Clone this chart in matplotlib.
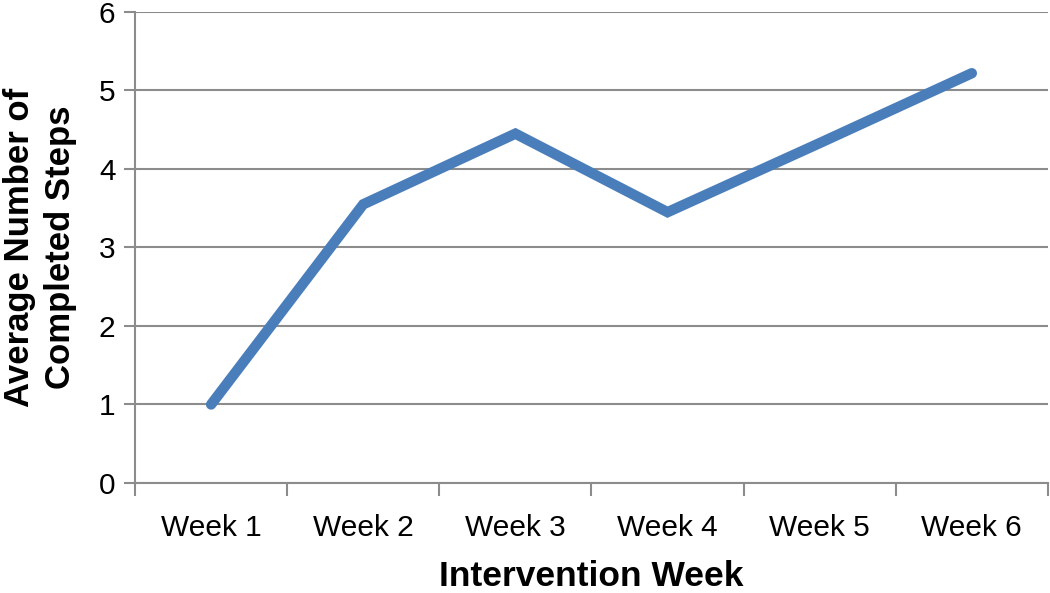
import matplotlib.pyplot as plt
import numpy as np

plt.rcParams['font.family'] = ['Liberation Sans', 'DejaVu Sans']

semanas = ['Week 1', 'Week 2', 'Week 3', 'Week 4', 'Week 5', 'Week 6']
pasos = [1.0, 3.55, 4.45, 3.45, 4.33, 5.22]

gris = '#8c8c8c'

fig = plt.figure(figsize=(10.5, 5.93), dpi=100)
ax = fig.add_axes([0.1286, 0.1855, 0.8694, 0.7943])

x = np.arange(len(semanas))
ax.plot(x, pasos, color='#4a7ebb', linewidth=7.5, solid_capstyle='round',
        solid_joinstyle='miter')

ax.set_xlim(-0.5, len(semanas) - 0.5)
ax.set_ylim(0, 6)
ax.set_yticks(range(0, 7))
ax.yaxis.grid(True, color=gris, linewidth=1.5)
ax.set_axisbelow(True)

ax.set_xticks(x)
ax.set_xticklabels(semanas, fontsize=21.5)
ax.set_xticks(np.arange(-0.5, len(semanas)), minor=True)
ax.tick_params(axis='x', which='major', length=0, pad=22)
ax.tick_params(axis='x', which='minor', length=9, width=1.5, color=gris)
ax.tick_params(axis='y', length=8, width=1.5, color=gris, labelsize=21.5, pad=6)

for lado in ['top', 'right']:
    ax.spines[lado].set_visible(False)
for lado in ['left', 'bottom']:
    ax.spines[lado].set_color(gris)
    ax.spines[lado].set_linewidth(1.5)

ax.set_xlabel('Intervention Week', fontsize=25.5, fontweight='bold', labelpad=13)
ax.set_ylabel('Average Number of\nCompleted Steps', fontsize=25, fontweight='bold',
              labelpad=16, linespacing=1.3)

plt.savefig('out.png', dpi=100)
